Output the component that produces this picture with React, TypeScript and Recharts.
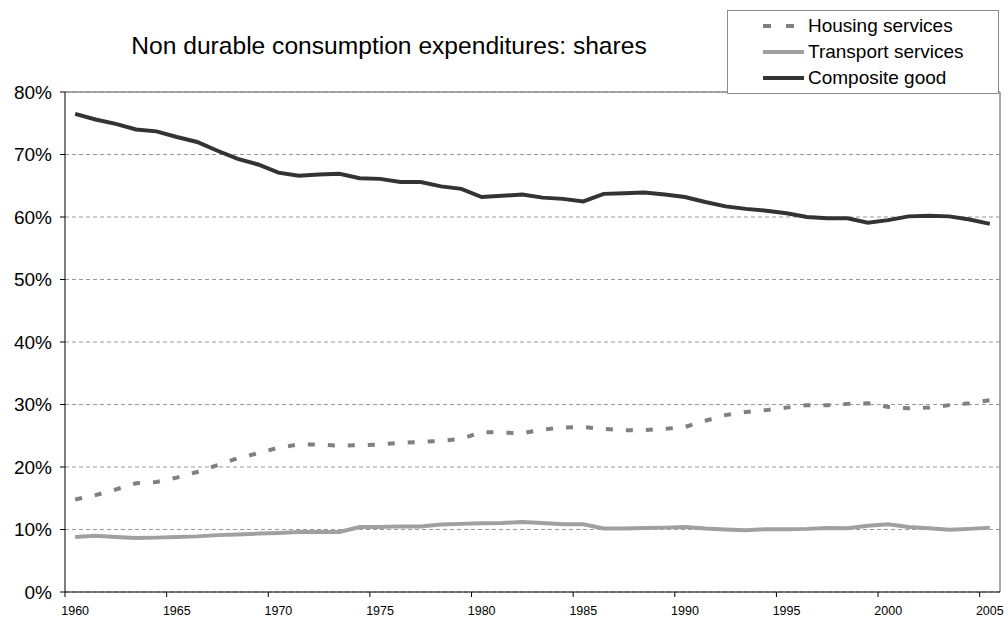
import { LineChart, Line, XAxis, YAxis, CartesianGrid, ReferenceLine } from 'recharts';

const years = [
  1960, 1961, 1962, 1963, 1964, 1965, 1966, 1967, 1968, 1969,
  1970, 1971, 1972, 1973, 1974, 1975, 1976, 1977, 1978, 1979,
  1980, 1981, 1982, 1983, 1984, 1985, 1986, 1987, 1988, 1989,
  1990, 1991, 1992, 1993, 1994, 1995, 1996, 1997, 1998, 1999,
  2000, 2001, 2002, 2003, 2004, 2005,
];

// shares in percent
const housing = [
  14.8, 15.5, 16.4, 17.4, 17.6, 18.3, 19.2, 20.3, 21.4, 22.2,
  23.1, 23.6, 23.6, 23.4, 23.5, 23.6, 23.9, 24.0, 24.2, 24.5,
  25.6, 25.5, 25.4, 26.0, 26.3, 26.4, 26.1, 25.9, 25.9, 26.1,
  26.4, 27.4, 28.3, 28.8, 29.1, 29.5, 29.9, 29.9, 30.1, 30.2,
  29.6, 29.4, 29.5, 29.9, 30.2, 30.7,
];

const transport = [
  8.8, 9.0, 8.8, 8.65, 8.7, 8.8, 8.9, 9.1, 9.2, 9.35,
  9.45, 9.6, 9.6, 9.6, 10.4, 10.4, 10.5, 10.5, 10.8, 10.9,
  11.0, 11.05, 11.2, 11.05, 10.85, 10.85, 10.15, 10.15, 10.25, 10.3,
  10.4, 10.15, 10.0, 9.9, 10.05, 10.05, 10.1, 10.25, 10.2, 10.6,
  10.85, 10.4, 10.2, 9.95, 10.1, 10.3,
];

const composite = [
  76.5, 75.6, 74.9, 74.0, 73.7, 72.8, 72.0, 70.6, 69.3, 68.4,
  67.1, 66.6, 66.8, 66.9, 66.2, 66.1, 65.6, 65.6, 64.9, 64.5,
  63.2, 63.4, 63.6, 63.1, 62.9, 62.5, 63.7, 63.8, 63.9, 63.6,
  63.2, 62.4, 61.7, 61.3, 61.0, 60.6, 60.0, 59.8, 59.8, 59.1,
  59.5, 60.1, 60.2, 60.1, 59.6, 58.9,
];

const xTicks = [1960, 1965, 1970, 1975, 1980, 1985, 1990, 1995, 2000, 2005];
const yTicks = [0, 10, 20, 30, 40, 50, 60, 70, 80];

const data = years.map((year, i) => ({
  year,
  housing: housing[i],
  transport: transport[i],
  composite: composite[i],
}));

const W = 1008;
const H = 622;
const M = { top: 92, right: 8, bottom: 0, left: 0 };
const Y_AXIS_W = 65;
const X_AXIS_H = 30;
const FONT = '"Liberation Sans", Arial, sans-serif';

// half a category width, Excel puts tick marks between categories
const plotW = W - M.left - M.right - Y_AXIS_W;
const halfStep = plotW / years.length / 2;

const XTick = (props: any) => {
  const { x, y, payload } = props;
  return (
    <g>
      <line x1={x - halfStep} x2={x - halfStep} y1={y} y2={y + 5} stroke="#000" />
      <text x={x} y={y + 23} textAnchor="middle" fontSize={12.5} fontFamily={FONT} fill="#000">
        {payload.value}
      </text>
    </g>
  );
};

const legendItems = [
  { label: 'Housing services', color: '#808080', dash: true },
  { label: 'Transport services', color: '#a0a0a0', dash: false },
  { label: 'Composite good', color: '#333333', dash: false },
];

const LegendBox = () => (
  <div
    style={{
      position: 'absolute',
      left: 727,
      top: 10,
      width: 272,
      height: 84,
      border: '1px solid #8c8c8c',
      background: '#fff',
      boxSizing: 'border-box',
      fontFamily: FONT,
      fontSize: 19,
      paddingTop: 2,
      zIndex: 2,
    }}
  >
    {legendItems.map((it) => (
      <div key={it.label} style={{ display: 'flex', alignItems: 'center', height: 26, lineHeight: '26px' }}>
        <svg width={80} height={26} style={{ flex: 'none' }}>
          {it.dash ? (
            <g fill={it.color}>
              <rect x={35} y={11} width={8} height={4} />
              <rect x={58} y={11} width={8} height={4} />
            </g>
          ) : (
            <line x1={35} x2={76} y1={13} y2={13} stroke={it.color} strokeWidth={4} />
          )}
        </svg>
        <span style={{ color: '#000', whiteSpace: 'nowrap' }}>{it.label}</span>
      </div>
    ))}
  </div>
);

export default function App() {
  return (
    <div style={{ position: 'absolute', left: 0, top: 0, width: W, height: H, background: '#fff' }}>
      <div
        style={{
          position: 'absolute',
          left: 0,
          top: 32,
          width: 778,
          textAlign: 'center',
          fontFamily: FONT,
          fontSize: 24.6,
          lineHeight: '28px',
          color: '#000',
        }}
      >
        Non durable consumption expenditures: shares
      </div>
      <LineChart width={W} height={H} data={data} margin={M}>
        <CartesianGrid vertical={false} stroke="#999" strokeDasharray="4 3" />
        <XAxis
          dataKey="year"
          type="number"
          domain={[1959.5, 2005.5]}
          ticks={xTicks}
          interval={0}
          height={X_AXIS_H}
          tickSize={0}
          tickMargin={0}
          tick={<XTick />}
          axisLine={{ stroke: '#000' }}
        />
        <YAxis
          domain={[0, 80]}
          ticks={yTicks}
          width={Y_AXIS_W}
          tickSize={5}
          tickMargin={8}
          tickFormatter={(v: number) => `${v}%`}
          tick={{ fontSize: 19, fontFamily: FONT, fill: '#000' }}
          axisLine={{ stroke: '#000' }}
          tickLine={{ stroke: '#000' }}
        />
        <ReferenceLine y={80} stroke="#8c8c8c" strokeWidth={1.5} />
        <ReferenceLine x={2005.5} stroke="#8c8c8c" strokeWidth={1.5} />
        <Line
          dataKey="housing"
          type="linear"
          stroke="#808080"
          strokeWidth={4}
          strokeDasharray="7 13"
          dot={false}
          isAnimationActive={false}
        />
        <Line
          dataKey="transport"
          type="linear"
          stroke="#a0a0a0"
          strokeWidth={4}
          dot={false}
          isAnimationActive={false}
        />
        <Line
          dataKey="composite"
          type="linear"
          stroke="#333333"
          strokeWidth={4}
          dot={false}
          isAnimationActive={false}
        />
      </LineChart>
      <LegendBox />
    </div>
  );
}
